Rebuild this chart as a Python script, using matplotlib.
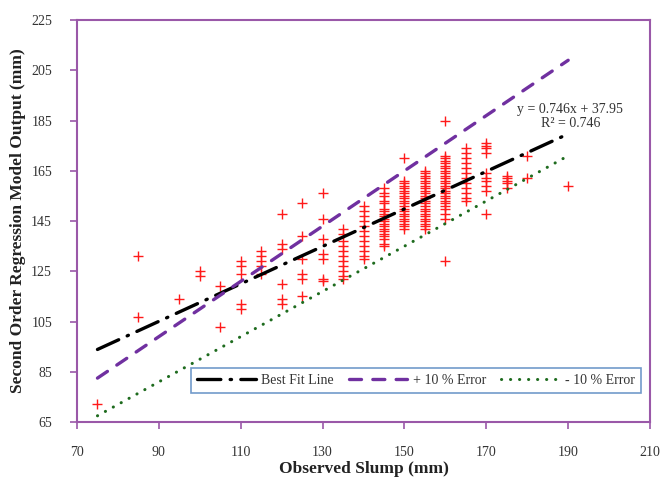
import matplotlib
matplotlib.use("Agg")
import matplotlib.pyplot as plt
import numpy as np

plt.rcParams["font.family"] = ["Liberation Serif", "DejaVu Serif"]

# observed slump (mm) -> model outputs (mm), one column per slump value
SLUMP_COLUMNS = {
    75: [72],
    85: [131, 107],
    95: [114],
    100: [125, 123],
    105: [119, 103],
    110: [129, 127, 124, 112, 110],
    115: [133, 131, 129, 127, 124],
    120: [148, 136, 134, 120, 114, 112],
    125: [152, 139, 130, 124, 122, 115],
    130: [156, 146, 138, 132, 130, 122, 121],
    135: [142, 140, 137, 135, 133, 131, 129, 127, 125, 123, 122],
    140: [151, 149, 147, 145, 143, 141, 139, 137, 135, 133, 131, 130],
    145: [158, 156, 155, 153, 152, 150, 149, 148, 147, 146, 145, 144, 143,
          142, 141, 140, 139, 138, 136, 135],
    150: [170, 161, 160, 159, 158, 157, 156, 155, 154, 153, 152, 151, 150,
          149, 148, 147, 146, 145, 144, 143, 142],
    155: [165, 164, 163, 162, 161, 160, 159, 158, 157, 156, 155, 154, 153,
          152, 151, 150, 149, 148, 147, 146, 145, 144, 143, 142],
    160: [185, 171, 170, 169, 168, 167, 166, 165, 164, 163, 162, 161, 160,
          159, 158, 157, 156, 155, 154, 153, 152, 151, 150, 148, 146, 129],
    165: [174, 172, 170, 168, 166, 164, 162, 160, 158, 156, 154, 153],
    170: [176, 175, 174, 172, 164, 162, 161, 159, 157, 148],
    175: [163, 162, 161, 160, 158],
    180: [171, 162],
    190: [159],
}

FIT_SLOPE = 0.746
FIT_INTERCEPT = 37.95
LINE_X = [75, 190]
X_TICKS = [70, 90, 110, 130, 150, 170, 190, 210]
Y_TICKS = [65, 85, 105, 125, 145, 165, 185, 205, 225]

FRAME = "#9a58a8"
TEXT = "#333333"

obs = []
pred = []
for x, ys in SLUMP_COLUMNS.items():
    obs.extend([x] * len(ys))
    pred.extend(ys)

lx = np.array(LINE_X, dtype=float)

fig = plt.figure(figsize=(6.72, 4.78), dpi=100)
ax = fig.add_axes([0.1146, 0.117, 0.8527, 0.841])

ax.plot(obs, pred, linestyle="none", marker="+", markersize=7,
        markeredgewidth=1.0, color="#ff1a1a", zorder=2)

ax.plot(lx, FIT_SLOPE * lx + FIT_INTERCEPT, color="black", linewidth=2.4,
        dashes=(7, 2.8, 0.4, 2.8), dash_capstyle="round",
        label="Best Fit Line", zorder=3)
ax.plot(lx, 1.1 * lx, color="#7030a0", linewidth=2.4, dashes=(3.6, 3.4),
        dash_capstyle="round", label="+ 10 % Error", zorder=3)
ax.plot(lx, 0.9 * lx, color="#1e6b1e", linewidth=2.2, dashes=(0.05, 2.9),
        dash_capstyle="round", label="- 10 % Error", zorder=3)

ax.text(190.5, 186.7, "y = 0.746x + 37.95\nR\u00b2 = 0.746", ha="center",
        va="center", fontsize=10, color=TEXT, linespacing=1.05)

ax.set_xlim(70, 210)
ax.set_ylim(65, 225)
ax.set_xticks(X_TICKS)
ax.set_yticks(Y_TICKS)
for s in ax.spines.values():
    s.set_color(FRAME)
    s.set_linewidth(1.5)
ax.tick_params(direction="out", length=5, width=1.2, color=FRAME,
               labelcolor=TEXT, labelsize=10, pad=12)
ax.tick_params(axis="y", pad=13)

ax.set_xlabel("Observed Slump (mm)", fontsize=12.5, fontweight="bold",
              color="#222222", labelpad=2)
ax.set_ylabel("Second Order Regression Model Output (mm)", fontsize=12.5,
              fontweight="bold", color="#222222", labelpad=4)

leg = ax.legend(loc="lower right", bbox_to_anchor=(0.985, 0.072), ncol=3,
                fontsize=10, frameon=True, fancybox=False, borderpad=0.45,
                handlelength=4.2, columnspacing=1.1, handletextpad=0.4,
                borderaxespad=0)
leg.get_frame().set_edgecolor("#4f81bd")
leg.get_frame().set_linewidth(1.2)
for t in leg.get_texts():
    t.set_color(TEXT)

fig.savefig("out.png", dpi=100)
